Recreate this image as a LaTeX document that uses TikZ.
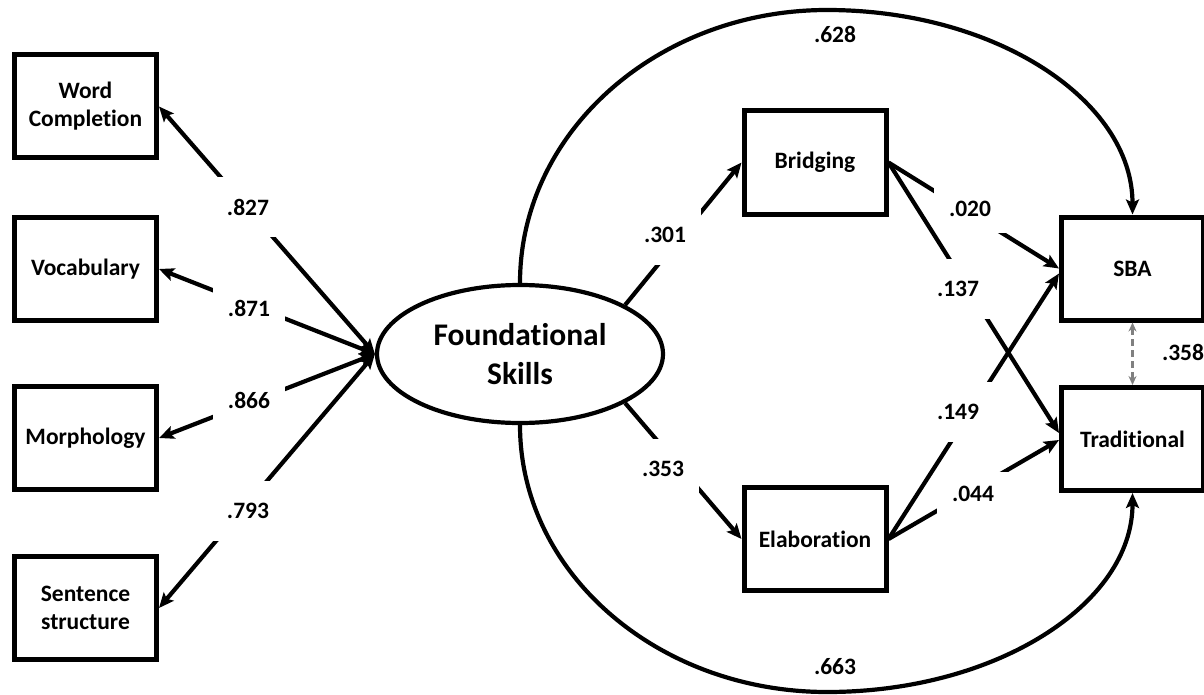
\documentclass[tikz,border=0pt]{standalone}
\usepackage{fontspec}
\setmainfont{Carlito}[Ligatures=NoCommon]
\usetikzlibrary{arrows.meta,shapes.geometric}
\begin{document}
\begin{tikzpicture}[x=1pt,y=-1pt,
  box/.style={draw, line width=5pt, minimum width=142pt, minimum height=103pt, inner sep=0pt, align=center, font=\fontsize{23.5}{28}\selectfont\bfseries},
  lat/.style={ellipse, draw, line width=4.2pt, minimum width=286pt, minimum height=138pt, inner sep=0pt, align=center, font=\fontsize{31.5}{39}\selectfont\bfseries},
  arr/.style={line width=4.2pt, -{Stealth[length=15pt,width=13pt,inset=3pt]}},
  darr/.style={line width=4.2pt, {Stealth[length=15pt,width=13pt,inset=3pt]}-{Stealth[length=15pt,width=13pt,inset=3pt]}},
  lab/.style={fill=white, inner sep=0pt, minimum width=72pt, minimum height=60pt, font=\fontsize{23.5}{28}\selectfont\bfseries},
  plainlab/.style={inner sep=0pt, font=\fontsize{23.5}{28}\selectfont\bfseries},
  corr/.style={line width=2.8pt, draw=gray, dash pattern=on 7pt off 4pt, {Stealth[length=9pt,width=8pt]}-{Stealth[length=9pt,width=8pt]}}
]
\useasboundingbox (0,0) rectangle (1204,695);

% nodes
\node[box] (wc) at (85.5,106.5) {Word\\Completion};
\node[box] (voc) at (85.5,269) {Vocabulary};
\node[box] (mor) at (85.5,438) {Morphology};
\node[box] (sen) at (85.5,608) {Sentence\\structure};
\node[lat] (fs) at (520,354) {Foundational\\Skills};
\node[box] (bri) at (815,162.5) {Bridging};
\node[box] (ela) at (815,539) {Elaboration};
\node[box] (sba) at (1132.5,268.5) {SBA};
\node[box] (tra) at (1132.5,439) {Traditional};

% peaks of the arcs
\coordinate (top) at (827,10);
\coordinate (bot) at (827,692);

% direct paths to outcomes
\draw[arr] (fs.north) .. controls +(0,-151) and +(-169,0) .. (top)
  .. controls +(169,0) and +(0,-114) .. (sba.north);
\node[plainlab] (l628) at (835,34) {.628};
\draw[arr] (fs.south) .. controls +(0,148) and +(-169,0) .. (bot)
  .. controls +(169,0) and +(0,111) .. (tra.south);
\node[plainlab] (l663) at (835,667) {.663};

% loadings
\draw[darr] (wc.east) -- (fs.west);
\node[lab] (l827) at (248,207) {.827};
\draw[darr] (voc.east) -- (fs.west);
\node[lab] (l871) at (249,308) {.871};
\draw[darr] (mor.east) -- (fs.west);
\node[lab] (l866) at (249,400) {.866};
\draw[darr] (sen.east) -- (fs.west);
\node[lab] (l793) at (248,511) {.793};

% paths to mediators
\draw[arr] (fs.25) -- (bri.west);
\node[lab] (l301) at (665,235) {.301};
\draw[arr] (fs.-25) -- (ela.west);
\node[lab] (l353) at (663,469) {.353};

% mediators to outcomes
\draw[arr] (bri.east) -- (sba.west);
\node[lab, minimum height=48pt] (l020) at (970,209) {.020};
\draw[arr] (bri.east) -- ([yshift=6pt]tra.west);
\node[lab] (l137) at (958,289) {.137};
\draw[arr] (ela.east) -- ([yshift=-1pt]tra.west);
\node[lab, minimum height=44pt] (l044) at (973,494) {.044};
\draw[arr] (ela.east) -- ([yshift=-5pt]sba.west);
\node[lab] (l149) at (958,412) {.149};

% residual correlation
\draw[corr] (sba.south) -- (tra.north);
\node[plainlab] (l358) at (1183,352) {.358};
\end{tikzpicture}
\end{document}
